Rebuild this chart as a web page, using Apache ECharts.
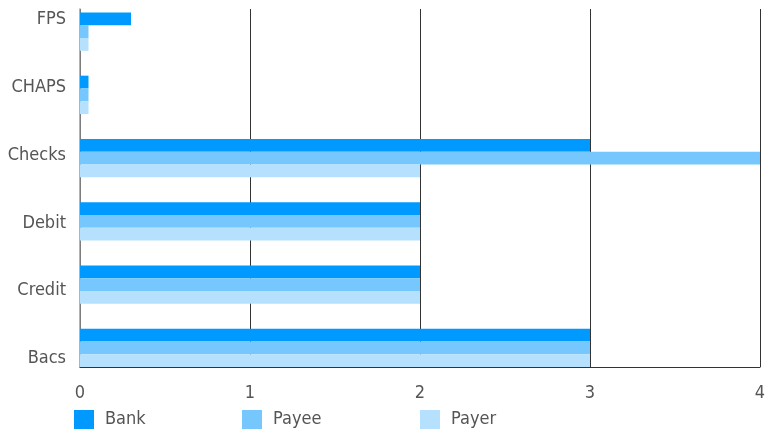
<!DOCTYPE html>
<html>
<head>
<meta charset="utf-8">
<script src="https://cdn.jsdelivr.net/npm/echarts@6/dist/echarts.min.js"></script>
<style>
  html, body { margin: 0; padding: 0; background: #fff; }
  #chart { width: 773px; height: 436px; }
</style>
</head>
<body>
<div id="chart"></div>
<script>
// data, bottom to top
const categories = ['Bacs', 'Credit', 'Debit', 'Checks', 'CHAPS', 'FPS']
const bankValues = [3, 2, 2, 3, 0.05, 0.3]
const payeeValues = [3, 2, 2, 4, 0.05, 0.05]
const payerValues = [3, 2, 2, 2, 0.05, 0.05]
const xTicks = [0, 1, 2, 3, 4]

const font = '"DejaVu Sans Condensed", "Liberation Sans Narrow", sans-serif'
const textColor = '#555'
const colors = { Bank: '#0099ff', Payee: '#75c7fd', Payer: '#b5e1ff' }

const chart = echarts.init(document.getElementById('chart'))

const legendAt = (name, left) => ({
  data: [name],
  left: left,
  top: 410,
  padding: 0,
  itemWidth: 20,
  itemHeight: 19,
  icon: 'rect',
  textStyle: { color: textColor, fontSize: 18, fontFamily: font, padding: [0, 0, 0, 6] }
})

const barSeries = (name, values) => ({
  name: name,
  type: 'bar',
  xAxisIndex: 0,
  yAxisIndex: 0,
  data: values,
  barWidth: 12.8,
  barGap: '0%',
  itemStyle: { color: colors[name] }
})

const option = {
  animation: false,
  textStyle: { fontFamily: font },
  legend: [legendAt('Bank', 74), legendAt('Payee', 242), legendAt('Payer', 420)],
  // grid 0: bars, grid 1: frame + x ticks, grid 2: category labels
  grid: [
    { left: 80, right: 13, top: -4.5, bottom: 56.5 },
    { left: 80, right: 13, top: 9, bottom: 69 },
    { left: 80, right: 13, top: 19.5, bottom: 77.5 }
  ],
  xAxis: [
    { gridIndex: 0, type: 'value', min: 0, max: 4, show: false },
    {
      gridIndex: 1,
      type: 'value',
      min: xTicks[0],
      max: xTicks[xTicks.length - 1],
      interval: 1,
      axisLine: { show: true, lineStyle: { color: '#333', width: 1 } },
      axisTick: { show: false },
      splitLine: { show: true, lineStyle: { color: '#333', width: 1 } },
      axisLabel: { color: textColor, fontSize: 18, margin: 17, fontFamily: font }
    },
    { gridIndex: 2, type: 'value', min: 0, max: 1, show: false }
  ],
  yAxis: [
    { gridIndex: 0, type: 'category', data: categories, show: false },
    {
      gridIndex: 1,
      type: 'category',
      data: categories,
      axisLine: { show: true, lineStyle: { color: '#999', width: 1.5 } },
      axisTick: { show: false },
      axisLabel: { show: false },
      splitLine: { show: false }
    },
    {
      gridIndex: 2,
      type: 'category',
      data: categories,
      boundaryGap: false,
      axisLine: { show: false },
      axisTick: { show: false },
      splitLine: { show: false },
      axisLabel: { color: textColor, fontSize: 18, margin: 14, fontFamily: font }
    }
  ],
  series: [
    barSeries('Bank', bankValues),
    barSeries('Payee', payeeValues),
    barSeries('Payer', payerValues)
  ]
}

chart.setOption(option)
</script>
</body>
</html>
